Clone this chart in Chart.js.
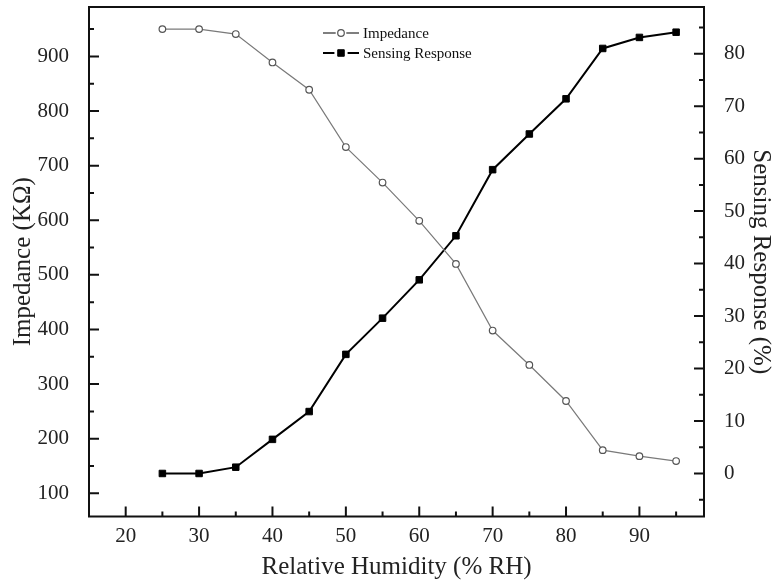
<!DOCTYPE html>
<html>
<head>
<meta charset="utf-8">
<script src="https://cdn.jsdelivr.net/npm/chart.js@4.4.1/dist/chart.umd.min.js"></script>
<style>
  html, body { margin: 0; padding: 0; background: #fff; }
  #wrap { width: 773px; height: 588px; }
</style>
</head>
<body>
<div id="wrap"><canvas id="humidityChart" width="773" height="588"></canvas></div>
<script>
const humidity = [25, 30, 35, 40, 45, 50, 55, 60, 65, 70, 75, 80, 85, 90, 95];
const impedance = [950, 950, 941, 889, 839, 734, 669, 599, 520, 398, 335, 269, 179, 168, 159];
const response = [0, 0, 1.2, 6.5, 11.8, 22.7, 29.6, 36.9, 45.3, 57.9, 64.7, 71.4, 81, 83.1, 84.1];
const seriesLabels = ["Impedance", "Sensing Response"];
const xTitle = "Relative Humidity (% RH)";
const yTitle = "Impedance (K\u03A9)";
const y1Title = "Sensing Response (%)";

const serif = "'Liberation Serif', 'DejaVu Serif', serif";
const inkColor = "#222";

//turn the arrays into {x, y} points
function toPoints(xs, ys){
    const result = [];
    xs.forEach((x, i) => result.push({x: x, y: ys[i]}));
    return result;
}

//frame around plot area and inward tick marks (major + minor)
const frameTicks = {
    id: "frameTicks",
    beforeDatasetsDraw(chart){
        const {ctx, chartArea: a, scales} = chart;
        const major = 10, minor = 5;
        ctx.save();
        ctx.strokeStyle = "#111";
        ctx.lineWidth = 2;
        ctx.strokeRect(a.left, a.top, a.right - a.left, a.bottom - a.top);
        ctx.beginPath();
        const minorTicks = (scale, step) => {
            const list = [];
            for(let v = Math.ceil(scale.min / step) * step; v <= scale.max; v += step){
                if(Math.abs(v % (step * 2)) > 1e-6) list.push(v);
            }
            return list;
        };
        // bottom axis
        scales.x.ticks.forEach(t => {
            const px = scales.x.getPixelForValue(t.value);
            ctx.moveTo(px, a.bottom); ctx.lineTo(px, a.bottom - major);
        });
        minorTicks(scales.x, 5).forEach(v => {
            const px = scales.x.getPixelForValue(v);
            if(px > a.left + 1 && px < a.right - 1){ ctx.moveTo(px, a.bottom); ctx.lineTo(px, a.bottom - minor); }
        });
        // left axis
        scales.y.ticks.forEach(t => {
            const py = scales.y.getPixelForValue(t.value);
            ctx.moveTo(a.left, py); ctx.lineTo(a.left + major, py);
        });
        minorTicks(scales.y, 50).forEach(v => {
            const py = scales.y.getPixelForValue(v);
            if(py > a.top + 1 && py < a.bottom - 1){ ctx.moveTo(a.left, py); ctx.lineTo(a.left + minor, py); }
        });
        // right axis
        scales.y1.ticks.forEach(t => {
            const py = scales.y1.getPixelForValue(t.value);
            ctx.moveTo(a.right, py); ctx.lineTo(a.right - major, py);
        });
        minorTicks(scales.y1, 5).forEach(v => {
            const py = scales.y1.getPixelForValue(v);
            if(py > a.top + 1 && py < a.bottom - 1){ ctx.moveTo(a.right, py); ctx.lineTo(a.right - minor, py); }
        });
        ctx.stroke();
        ctx.restore();
    }
};

//legend with line + marker sample, like the original plot
const lineLegend = {
    id: "lineLegend",
    afterDraw(chart){
        const {ctx} = chart;
        const x0 = 323, x1 = 359, textX = 363, rowY = [33, 53];
        const mid = (x0 + x1) / 2;
        ctx.save();
        chart.data.datasets.forEach((ds, i) => {
            const y = rowY[i];
            const gap = ds.pointRadius + 2;
            ctx.strokeStyle = i === 0 ? "#555" : "#000";
            ctx.lineWidth = i === 0 ? 1.3 : 2;
            ctx.beginPath();
            ctx.moveTo(x0, y); ctx.lineTo(mid - gap, y);
            ctx.moveTo(mid + gap, y); ctx.lineTo(x1, y);
            ctx.stroke();
            ctx.fillStyle = ds.pointBackgroundColor;
            ctx.strokeStyle = ds.pointBorderColor;
            ctx.lineWidth = ds.pointBorderWidth;
            ctx.beginPath();
            if(ds.pointStyle === "rect"){
                const s = ds.pointRadius * Math.SQRT1_2;
                ctx.rect(mid - s, y - s, 2 * s, 2 * s);
            } else {
                ctx.arc(mid, y, ds.pointRadius, 0, Math.PI * 2);
            }
            ctx.fill();
            ctx.stroke();
            ctx.fillStyle = "#111";
            ctx.font = "15px " + serif;
            ctx.textAlign = "left";
            ctx.textBaseline = "middle";
            ctx.fillText(ds.label, textX, y + 1);
        });
        ctx.restore();
    }
};

const tickFont = {family: serif, size: 21};
const titleFont = {family: serif, size: 25, lineHeight: 1};

new Chart(document.getElementById("humidityChart"), {
    type: "line",
    data: {
        datasets: [
            {
                label: seriesLabels[0],
                data: toPoints(humidity, impedance),
                yAxisID: "y",
                borderColor: "#7a7a7a",
                borderWidth: 1.2,
                pointStyle: "circle",
                pointRadius: 3.3,
                pointBorderWidth: 1.2,
                pointBackgroundColor: "#fff",
                pointBorderColor: "#555",
                tension: 0
            },
            {
                label: seriesLabels[1],
                data: toPoints(humidity, response),
                yAxisID: "y1",
                borderColor: "#000",
                borderWidth: 2,
                pointStyle: "rect",
                pointRadius: 4.6,
                pointBorderWidth: 1,
                pointBackgroundColor: "#000",
                pointBorderColor: "#000",
                tension: 0
            }
        ]
    },
    options: {
        responsive: false,
        animation: false,
        layout: {padding: {top: 7, left: 0, right: 0, bottom: 0}},
        plugins: {
            legend: {display: false},
            tooltip: {enabled: false}
        },
        scales: {
            x: {
                type: "linear",
                min: 15,
                max: 98.8,
                grid: {display: false},
                border: {display: false},
                ticks: {stepSize: 10, includeBounds: false, font: tickFont, color: inkColor, padding: -1, maxRotation: 0},
                title: {display: true, text: xTitle, font: titleFont, color: inkColor, padding: {top: 0, bottom: 8}},
                afterFit(s){ s.height = 71.5; s.paddingLeft = 0; s.paddingRight = 0; }
            },
            y: {
                position: "left",
                min: 57.5,
                max: 990.5,
                grid: {display: false},
                border: {display: false},
                ticks: {stepSize: 100, includeBounds: false, font: tickFont, color: inkColor, padding: 12},
                title: {display: true, text: yTitle, font: titleFont, color: inkColor, padding: {top: 11, bottom: 0}},
                afterFit(s){ s.width = 89; s.paddingTop = 0; s.paddingBottom = 0; }
            },
            y1: {
                position: "right",
                min: -8.2,
                max: 88.9,
                grid: {display: false},
                border: {display: false},
                ticks: {stepSize: 10, includeBounds: false, font: tickFont, color: inkColor, padding: 12},
                title: {display: true, text: y1Title, font: titleFont, color: inkColor, padding: {top: 0, bottom: 0}},
                afterFit(s){ s.width = 69; s.paddingTop = 0; s.paddingBottom = 0; }
            }
        }
    },
    plugins: [frameTicks, lineLegend]
});
</script>
</body>
</html>
